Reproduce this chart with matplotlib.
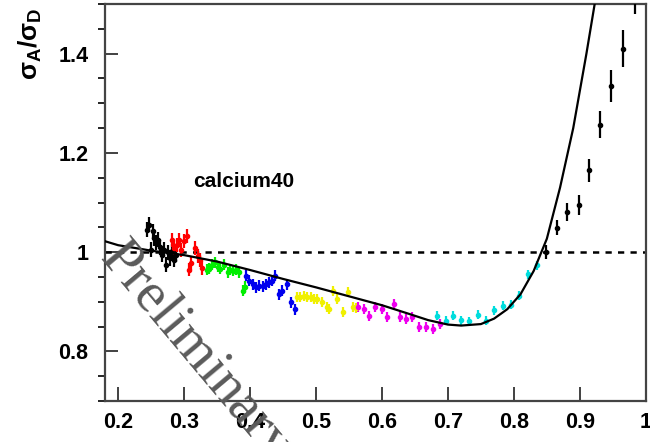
import numpy as np
import matplotlib
matplotlib.use('Agg')
from matplotlib import pyplot as plt
from matplotlib.ticker import MultipleLocator

plt.rcParams['font.family'] = ['Liberation Sans', 'DejaVu Sans']
plt.rcParams['mathtext.fontset'] = 'custom'
plt.rcParams['mathtext.rm'] = 'Liberation Sans:bold'
plt.rcParams['mathtext.it'] = 'Liberation Sans:bold'
plt.rcParams['mathtext.bf'] = 'Liberation Sans:bold'

# data groups, x = Bjorken-like variable, y = ratio, e = error
black1_x = [0.243, 0.247, 0.250, 0.253, 0.255, 0.258, 0.261, 0.264, 0.266, 0.269,
            0.272, 0.275, 0.278, 0.281, 0.284, 0.287]
black1_y = [1.045, 1.055, 1.005, 1.042, 1.028, 1.020, 1.025, 1.010, 0.995, 1.005,
            0.975, 1.000, 0.988, 1.002, 0.985, 0.995]
black1_e = [0.015] * len(black1_x)

red_x = [0.281, 0.285, 0.289, 0.293, 0.296, 0.300, 0.304, 0.308, 0.311, 0.317,
         0.321, 0.324, 0.327]
red_y = [1.025, 1.009, 1.015, 1.025, 1.005, 1.022, 1.032, 0.965, 0.979, 1.009,
         0.992, 0.985, 0.968]
red_e = [0.014] * len(red_x)

green_x = [0.334, 0.338, 0.343, 0.347, 0.352, 0.355, 0.360, 0.366, 0.370, 0.374,
           0.378, 0.383, 0.389, 0.392]
green_y = [0.965, 0.967, 0.975, 0.980, 0.970, 0.967, 0.975, 0.959, 0.965, 0.962,
           0.965, 0.959, 0.922, 0.930]
green_e = [0.011] * len(green_x)

blue_x = [0.394, 0.399, 0.404, 0.409, 0.414, 0.419, 0.424, 0.429, 0.433, 0.438,
          0.444, 0.449, 0.456, 0.462, 0.468]
blue_y = [0.952, 0.942, 0.935, 0.929, 0.932, 0.931, 0.935, 0.939, 0.942, 0.952,
          0.915, 0.922, 0.935, 0.899, 0.885]
blue_e = [0.011] * len(blue_x)

yellow_x = [0.471, 0.476, 0.482, 0.487, 0.492, 0.497, 0.502, 0.509, 0.516, 0.520,
            0.526, 0.532, 0.541, 0.549, 0.556, 0.561]
yellow_y = [0.909, 0.909, 0.911, 0.909, 0.909, 0.905, 0.905, 0.899, 0.889, 0.885,
            0.922, 0.905, 0.879, 0.919, 0.889, 0.887]
yellow_e = [0.010] * len(yellow_x)

magenta_x = [0.564, 0.572, 0.581, 0.589, 0.600, 0.608, 0.618, 0.627, 0.637, 0.646,
             0.656, 0.667, 0.677, 0.688]
magenta_y = [0.889, 0.885, 0.872, 0.889, 0.885, 0.869, 0.895, 0.869, 0.865, 0.869,
             0.849, 0.849, 0.845, 0.855]
magenta_e = [0.010] * len(magenta_x)

cyan_x = [0.684, 0.697, 0.708, 0.720, 0.732, 0.745, 0.758, 0.770, 0.783, 0.795,
          0.808, 0.822, 0.835]
cyan_y = [0.872, 0.862, 0.872, 0.863, 0.861, 0.874, 0.862, 0.883, 0.892, 0.894,
          0.912, 0.955, 0.974]
cyan_e = [0.009] * len(cyan_x)

black2_x = [0.849, 0.865, 0.881, 0.898, 0.914, 0.931, 0.947, 0.966, 0.983]
black2_y = [1.000, 1.049, 1.081, 1.095, 1.165, 1.257, 1.335, 1.410, 1.525]
black2_e = [0.014, 0.015, 0.019, 0.020, 0.023, 0.027, 0.032, 0.037, 0.045]

curve_x = [0.18, 0.20, 0.25, 0.30, 0.35, 0.40, 0.45, 0.50, 0.55, 0.60, 0.64, 0.67,
           0.70, 0.72, 0.75, 0.77, 0.79, 0.81, 0.83, 0.85, 0.87, 0.89, 0.91, 0.925]
curve_y = [1.022, 1.014, 1.003, 0.994, 0.981, 0.964, 0.946, 0.929, 0.911, 0.893,
           0.876, 0.863, 0.854, 0.852, 0.855, 0.866, 0.885, 0.915, 0.962, 1.027,
           1.13, 1.25, 1.40, 1.52]

groups = [
    (black1_x, black1_y, black1_e, 'black'),
    (red_x, red_y, red_e, '#ff0000'),
    (green_x, green_y, green_e, '#00ee00'),
    (blue_x, blue_y, blue_e, '#0000ee'),
    (yellow_x, yellow_y, yellow_e, '#f0f000'),
    (magenta_x, magenta_y, magenta_e, '#ee00ee'),
    (cyan_x, cyan_y, cyan_e, '#00dddd'),
    (black2_x, black2_y, black2_e, 'black'),
]

fig = plt.figure(figsize=(6.5, 4.42), dpi=100)
ax = fig.add_axes([0.1615, 0.0928, 0.832, 0.898])

for gx, gy, ge, col in groups:
    ax.errorbar(gx, gy, yerr=ge, fmt='o', color=col, ms=3, elinewidth=1.6,
                capsize=0, zorder=3)

ax.plot(curve_x, curve_y, color='black', lw=1.6, zorder=4)
ax.axhline(1.0, color='black', lw=1.8, ls=(0, (2.5, 2.5)), zorder=2)

ax.set_xlim(0.18, 1.0)
ax.set_ylim(0.7, 1.5)
ax.yaxis.set_minor_locator(MultipleLocator(0.05))
ax.set_xticks([0.2, 0.3, 0.4, 0.5, 0.6, 0.7, 0.8, 0.9, 1.0])
ax.set_xticklabels(['0.2', '0.3', '0.4', '0.5', '0.6', '0.7', '0.8', '0.9', '1'])
ax.set_yticks([0.8, 1.0, 1.2, 1.4])
ax.set_yticklabels(['0.8', '1', '1.2', '1.4'])
ax.tick_params(axis='both', direction='in', labelsize=15.5, width=1.3, color='#333333')
ax.tick_params(axis='y', which='major', length=9, pad=12)
ax.tick_params(axis='y', which='minor', length=5, width=1.2)
ax.tick_params(axis='x', which='major', length=10, pad=8)
for lab in ax.get_xticklabels() + ax.get_yticklabels():
    lab.set_fontweight('bold')
for sp in ax.spines.values():
    sp.set_linewidth(1.6)
    sp.set_color('#444444')

ax.set_ylabel(r'$\sigma_{A}/\sigma_{D}$', fontsize=19, loc='top')
ax.yaxis.set_label_coords(-0.112, 0.99)

ax.text(0.18 + (244 - 105) / 660.0, 1.0 - (180 - 251) / 500.0, 'calcium40',
        fontsize=15, fontweight='bold', ha='center', va='center')

fig.text(196 / 650.0, 1 - 352 / 442.0, 'Preliminary', family=['Liberation Serif', 'DejaVu Serif'],
         fontsize=41, color='#5a5a5a', rotation=-50, rotation_mode='anchor',
         ha='center', va='center', zorder=10)

fig.savefig('out.png', dpi=100)
